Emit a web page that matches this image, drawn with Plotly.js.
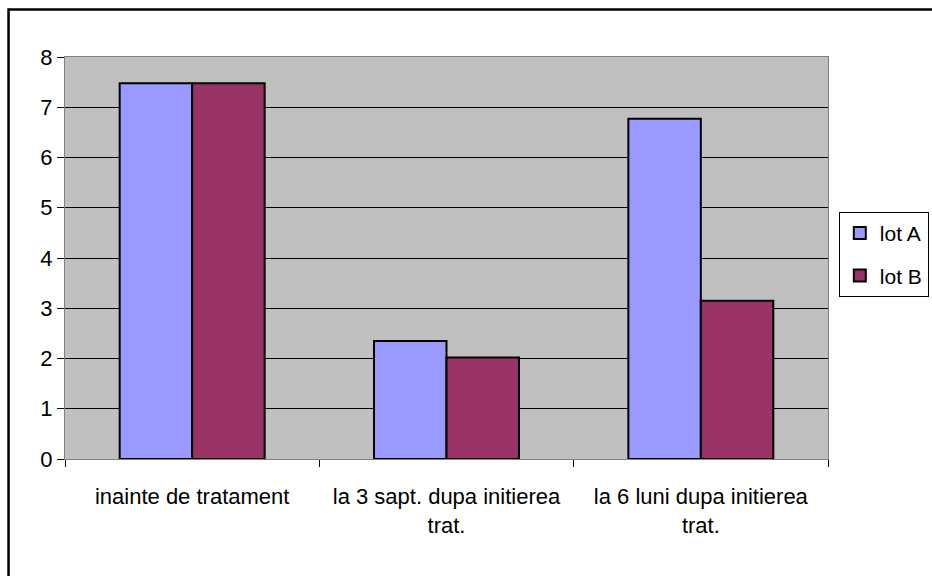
<!DOCTYPE html>
<html>
<head>
<meta charset="utf-8">
<script src="https://cdn.plot.ly/plotly-3.0.1.min.js"></script>
<style>html,body{margin:0;padding:0;background:#fff;}#chart{width:932px;height:576px;}</style>
</head>
<body>
<div id="chart"></div>
<script>
const categories = ["inainte de tratament", "la 3 sapt. dupa initierea<br>trat.", "la 6 luni dupa initierea<br>trat."];
const seriesNames = ["lot A", "lot B"];
const lotA = [7.48, 2.35, 6.77];
const lotB = [7.48, 2.02, 3.15];
const yTicks = [0, 1, 2, 3, 4, 5, 6, 7, 8];

const font = {family: "Liberation Sans, Arial, sans-serif", size: 22, color: "#000"};

const traces = [
  {type: "bar", name: seriesNames[0], x: categories, y: lotA, legendgroup: "a",
   marker: {color: "#9999FF", line: {color: "#000", width: 2}}},
  {type: "bar", name: seriesNames[1], x: categories, y: lotB, legendgroup: "b",
   marker: {color: "#993366", line: {color: "#000", width: 2}}}
];

const layout = {
  width: 932, height: 576,
  margin: {l: 65, r: 104, t: 57, b: 117},
  paper_bgcolor: "#fff",
  plot_bgcolor: "#C0C0C0",
  font: font,
  barmode: "group",
  bargap: 0.43,
  bargroupgap: 0,
  showlegend: true,
  legend: {xref: "container", yref: "container", x: 0.9, xanchor: "left", y: 0.632, yanchor: "top",
           bordercolor: "#000", borderwidth: 1, bgcolor: "#fff",
           font: {family: font.family, size: 21, color: "#000"}, traceorder: "grouped", tracegroupgap: 12,
           itemwidth: 30},
  xaxis: {type: "category", showgrid: false, zeroline: false,
          showline: true, linecolor: "#808080", linewidth: 1, mirror: true,
          ticks: "outside", tickson: "boundaries", ticklen: 7, tickcolor: "#000",
          tickfont: font, ticklabelstandoff: 18, automargin: false},
  yaxis: {range: [0, 8], tickvals: yTicks, showgrid: true, gridcolor: "#000", gridwidth: 1,
          zeroline: false, showline: true, linecolor: "#808080", linewidth: 1, mirror: true,
          ticks: "outside", ticklen: 7, tickcolor: "#000", tickfont: font, automargin: false},
  shapes: [
    {type: "rect", xref: "paper", yref: "paper", x0: -0.074, x1: 1.25, y0: -0.4, y1: 1.118,
     line: {color: "#000", width: 2.5}, fillcolor: "rgba(0,0,0,0)", layer: "below"}
  ]
};

Plotly.newPlot("chart", traces, layout, {displayModeBar: false, staticPlot: true});
</script>
</body>
</html>
